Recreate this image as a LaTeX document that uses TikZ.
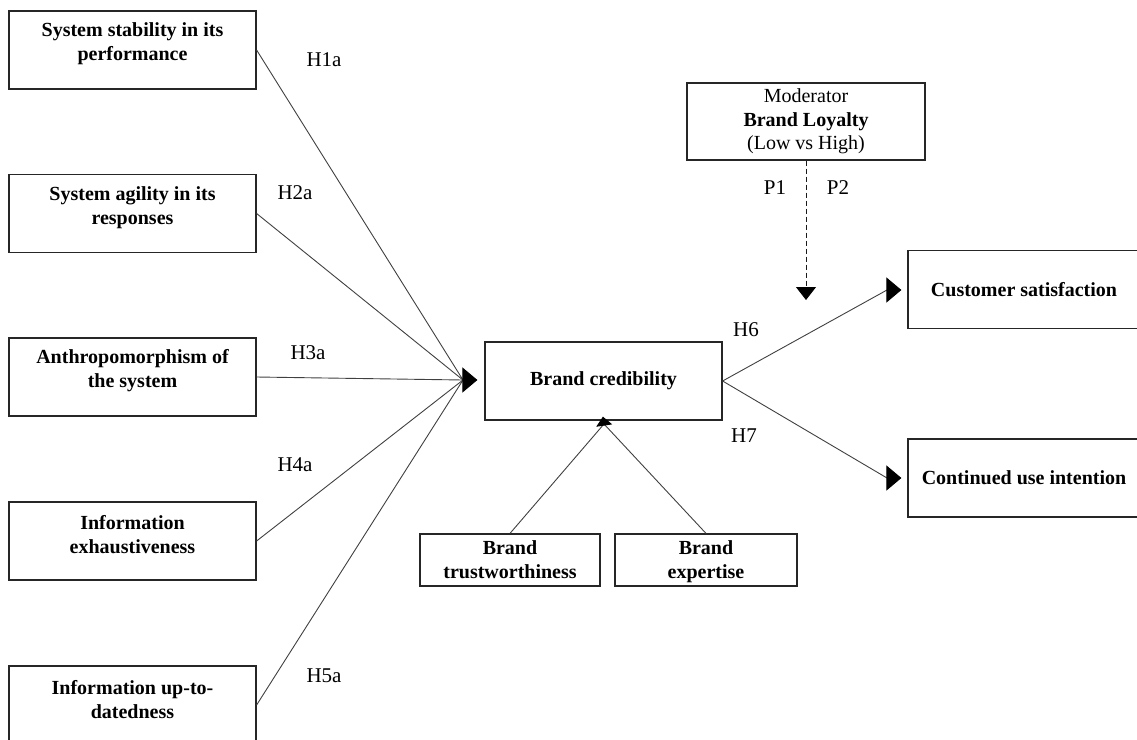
\documentclass[tikz,border=0pt]{standalone}
\usepackage{fontspec}
\setmainfont{Liberation Serif}
\usetikzlibrary{arrows.meta}
\begin{document}
\begin{tikzpicture}[x=1pt,y=-1pt,
 box/.style={draw=black!85,line width=1.2pt,rectangle,inner sep=0pt},
 lbox/.style={box,minimum width=247pt,minimum height=78pt},
 rbox/.style={box,minimum width=232pt,minimum height=78pt},
 btext/.style={font=\fontsize{20}{24}\selectfont\bfseries,align=center,inner sep=0pt},
 lab/.style={font=\fontsize{21}{24}\selectfont,inner sep=0pt},
 conn/.style={draw=black!75,line width=0.9pt},
 bigtip/.style={-{Triangle[length=15pt,width=25pt,color=black,fill=black]}},
]
\useasboundingbox (0,0) rectangle (1137,739);
\clip (0,0) rectangle (1137,739);

% left boxes
\node[lbox] (s1) at (132.5,50) {};
\node[btext] (s1t) at (132.5,44) {System stability in its\\performance};
\node[lbox] (s2) at (132.5,213.5) {};
\node[btext] (s2t) at (132.5,208) {System agility in its\\responses};
\node[lbox] (s3) at (132.5,377) {};
\node[btext] (s3t) at (132.5,371) {Anthropomorphism of\\the system};
\node[lbox] (s4) at (132.5,541) {};
\node[btext] (s4t) at (132.5,535) {Information\\exhaustiveness};
\node[lbox] (s5) at (132.5,705) {};
\node[btext] (s5t) at (132.5,700) {Information up-to-\\datedness};

% center
\node[box,minimum width=237pt,minimum height=78pt,btext] (bc) at (603.5,381) {Brand credibility};
\node[box,minimum width=180pt,minimum height=52pt,btext] (bt) at (510,560) {Brand\\trustworthiness};
\node[box,minimum width=182pt,minimum height=52pt,btext,text depth=0pt] (be) at (706,560) {Brand\\expertise};

% moderator
\node[box,minimum width=238pt,minimum height=77pt,align=center,font=\fontsize{20}{23.5}\selectfont] (mod) at (806,121.5) {Moderator\\\textbf{Brand Loyalty}\\(Low vs High)};

% right boxes
\node[rbox,btext] (cs) at (1024,289.5) {Customer satisfaction};
\node[rbox,btext] (cu) at (1024,478) {Continued use intention};

% convergence points
\coordinate (conv) at (463,380);
\coordinate (cm) at (604,424);
\coordinate (h6e) at (887,290);
\coordinate (h7e) at (887,478);
\coordinate (modend) at (806,300);

% left connectors
\draw[conn] (s1.east) -- (conv);
\draw[conn] (s2.east) -- (conv);
\draw[conn] (s3.east) -- (conv);
\draw[conn] (s4.east) -- (conv);
\draw[conn] (s5.east) -- (conv);
\draw[conn,bigtip,shorten >=7pt] (conv) -- (bc.west |- conv);

% dimensions
\draw[conn] (bt.north) -- (cm);
\draw[conn] (be.north) -- (cm);
\draw[conn,-{Triangle[length=9pt,width=16pt,color=black,fill=black]},shorten >=-4pt] (cm) -- (bc.south);

% outcomes
\draw[conn] (bc.east) -- (h6e);
\draw[conn,bigtip,shorten >=6pt] (h6e) -- (cs.west |- h6e);
\draw[conn] (bc.east) -- (h7e);
\draw[conn,bigtip,shorten >=6pt] (h7e) -- (cu.west);

% moderator dashed
\draw[conn,draw=black!90,dashed,dash pattern=on 5pt off 3pt,-{Triangle[length=13pt,width=20pt,color=black,fill=black]}] (mod.south) -- (modend);

% labels
\node[lab] (l1) at (324,60) {H1a};
\node[lab] (l2) at (295,193) {H2a};
\node[lab] (l3) at (308,353) {H3a};
\node[lab] (l4) at (295,465) {H4a};
\node[lab] (l5) at (324,676) {H5a};
\node[lab] (l6) at (746,330) {H6};
\node[lab] (l7) at (744,436) {H7};
\node[lab] (p1) at (775,188) {P1};
\node[lab] (p2) at (838,188) {P2};
\end{tikzpicture}
\end{document}
